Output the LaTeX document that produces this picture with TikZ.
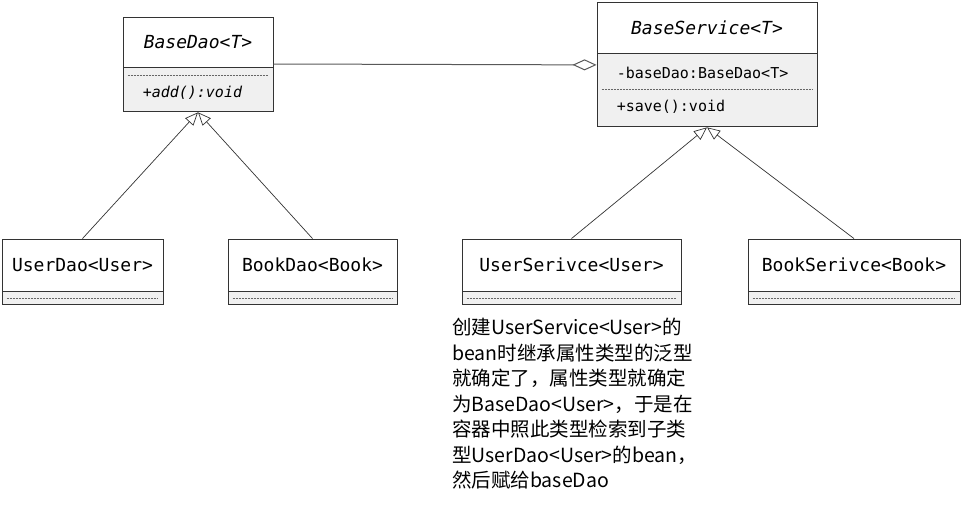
\documentclass[tikz,border=0pt]{standalone}
\usepackage{fontspec}
\setmonofont{DejaVu Sans Mono}
\newfontfamily\cjk{Noto Sans CJK SC}
\usetikzlibrary{arrows.meta,positioning}

\begin{document}
\begin{tikzpicture}[x=1pt, y=-1pt,
    head/.style={draw=black!80, line width=0.9pt, fill=white, inner sep=0pt, font=\ttfamily\fontsize{18}{21}\selectfont},
    body/.style={draw=black!80, line width=0.9pt, fill=black!6, inner sep=0pt},
    member/.style={anchor=west, inner sep=0pt, font=\ttfamily\fontsize{15}{18}\selectfont},
    sepline/.style={black!60, line width=0.6pt, dash pattern=on 2pt off 1pt},
    extends/.style={black!80, line width=0.7pt, -{Triangle[open, length=13pt, width=11pt]}},
    aggr/.style={black!65, line width=1pt, -{Diamond[open, length=24pt, width=11pt]}},
    note/.style={anchor=north west, inner sep=0pt, align=left, font=\cjk\fontsize{19.5}{25.5}\selectfont}]
    \useasboundingbox (0, 0) rectangle (962, 504);
    % BaseDao<T>
    \node[head, minimum width=150pt, minimum height=50pt] (bdhead) at (198, 42) {\itshape BaseDao<T>};
    \node[body, minimum width=150pt, minimum height=44pt, below=0pt of bdhead] (bdbody) {};
    \draw[sepline] ([xshift=5pt, yshift=-8pt]bdbody.north west) -- ([xshift=-5pt, yshift=-8pt]bdbody.north east);
    \node[member] (bdadd) at ([xshift=20pt, yshift=-3pt]bdbody.west) {\itshape +add():void};
    % BaseService<T>
    \node[head, minimum width=220pt, minimum height=51pt] (bshead) at (707, 27.5) {\itshape BaseService<T>};
    \node[body, minimum width=220pt, minimum height=73pt, below=0pt of bshead] (bsbody) {};
    \node[member] (bsattr) at ([xshift=20pt, yshift=-19pt]bsbody.north west) {-baseDao:BaseDao<T>};
    \draw[sepline] ([xshift=5pt, yshift=-36pt]bsbody.north west) -- ([xshift=-5pt, yshift=-36pt]bsbody.north east);
    \node[member] (bssave) at ([xshift=20pt, yshift=-53pt]bsbody.north west) {+save():void};
    % subclasses
    \node[head, minimum width=161pt, minimum height=52pt] (udhead) at (82.5, 265) {UserDao<User>};
    \node[body, minimum width=161pt, minimum height=13pt, below=0pt of udhead] (udbody) {};
    \draw[sepline] ([xshift=5pt]udbody.west) -- ([xshift=-5pt]udbody.east);
    \node[head, minimum width=169pt, minimum height=52pt] (bkhead) at (312.5, 265) {BookDao<Book>};
    \node[body, minimum width=169pt, minimum height=13pt, below=0pt of bkhead] (bkbody) {};
    \draw[sepline] ([xshift=5pt]bkbody.west) -- ([xshift=-5pt]bkbody.east);
    \node[head, minimum width=219pt, minimum height=52pt] (ushead) at (571.5, 265) {UserSerivce<User>};
    \node[body, minimum width=219pt, minimum height=13pt, below=0pt of ushead] (usbody) {};
    \draw[sepline] ([xshift=5pt]usbody.west) -- ([xshift=-5pt]usbody.east);
    \node[head, minimum width=212pt, minimum height=52pt] (kshead) at (854, 265) {BookSerivce<Book>};
    \node[body, minimum width=212pt, minimum height=13pt, below=0pt of kshead] (ksbody) {};
    \draw[sepline] ([xshift=5pt]ksbody.west) -- ([xshift=-5pt]ksbody.east);
    % relations
    \draw[aggr] ([yshift=-22pt]bdhead.east) -- ([yshift=25.5pt]bsbody.west);
    \draw[extends] (udhead.north) -- (bdbody.south);
    \draw[extends] (bkhead.north) -- (bdbody.south);
    \draw[extends] (ushead.north) -- (bsbody.south);
    \draw[extends] (kshead.north) -- (bsbody.south);
    % note
    \node[note] (usnote) at (452, 318) {创建UserService<User>的\\
        bean时继承属性类型的泛型\\
        就确定了，属性类型就确定\\
        为BaseDao<User>，于是在\\
        容器中照此类型检索到子类\\
        型UserDao<User>的bean，\\
        然后赋给baseDao};
\end{tikzpicture}
\end{document}
